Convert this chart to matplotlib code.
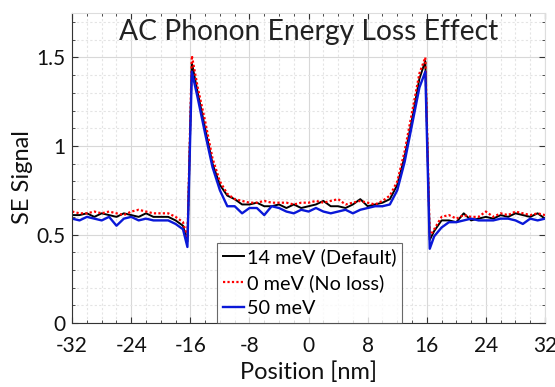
import matplotlib
matplotlib.use("Agg")
import matplotlib.pyplot as plt
from matplotlib.ticker import MultipleLocator, FuncFormatter

plt.rcParams['font.family'] = ['Lato', 'DejaVu Sans']
plt.rcParams['axes.unicode_minus'] = False

position = [-32, -31, -30, -29, -28, -27, -26, -25, -24, -23, -22, -21, -20, -19, -18, -17,
            -16.4, -15.8,
            -15, -14, -13, -12, -11, -10, -9, -8, -7, -6, -5, -4, -3, -2, -1, 0,
            1, 2, 3, 4, 5, 6, 7, 8, 9, 10, 11, 12, 13, 14, 15,
            15.8, 16.4,
            17, 18, 19, 20, 21, 22, 23, 24, 25, 26, 27, 28, 29, 30, 31, 32]

se_14mev = [0.61, 0.61, 0.62, 0.60, 0.62, 0.61, 0.60, 0.62, 0.61, 0.60, 0.62, 0.60, 0.60, 0.60, 0.58, 0.55,
            0.46, 1.47,
            1.30, 1.10, 0.90, 0.78, 0.72, 0.70, 0.67, 0.67, 0.68, 0.66, 0.66, 0.67, 0.65, 0.67, 0.65, 0.66,
            0.67, 0.69, 0.66, 0.66, 0.65, 0.67, 0.70, 0.66, 0.67, 0.68, 0.70, 0.78, 0.94, 1.15, 1.38,
            1.48, 0.47,
            0.52, 0.58, 0.58, 0.57, 0.62, 0.58, 0.59, 0.60, 0.59, 0.61, 0.60, 0.62, 0.61, 0.60, 0.62, 0.59]

se_0mev = [0.63, 0.62, 0.62, 0.63, 0.62, 0.63, 0.62, 0.61, 0.63, 0.64, 0.63, 0.62, 0.62, 0.62, 0.60, 0.57,
           0.48, 1.51,
           1.33, 1.14, 0.93, 0.80, 0.73, 0.70, 0.69, 0.68, 0.68, 0.69, 0.68, 0.68, 0.68, 0.67, 0.68, 0.68,
           0.69, 0.68, 0.69, 0.70, 0.67, 0.68, 0.69, 0.68, 0.67, 0.69, 0.72, 0.80, 0.97, 1.19, 1.41,
           1.50, 0.49,
           0.53, 0.60, 0.61, 0.59, 0.61, 0.60, 0.60, 0.63, 0.60, 0.62, 0.61, 0.63, 0.62, 0.61, 0.62, 0.61]

se_50mev = [0.59, 0.58, 0.60, 0.59, 0.58, 0.60, 0.55, 0.59, 0.60, 0.58, 0.59, 0.58, 0.58, 0.58, 0.56, 0.53,
            0.43, 1.42,
            1.27, 1.07, 0.88, 0.75, 0.66, 0.66, 0.62, 0.65, 0.65, 0.61, 0.66, 0.65, 0.63, 0.62, 0.64, 0.63,
            0.65, 0.63, 0.62, 0.63, 0.64, 0.62, 0.64, 0.65, 0.66, 0.66, 0.67, 0.75, 0.91, 1.12, 1.33,
            1.42, 0.42,
            0.49, 0.54, 0.57, 0.57, 0.58, 0.59, 0.58, 0.58, 0.58, 0.59, 0.59, 0.58, 0.56, 0.59, 0.58, 0.59]

labels = ['14 meV (Default)', '0 meV (No loss)', '50 meV']
title = 'AC Phonon Energy Loss Effect'
x_ticks = [-32, -24, -16, -8, 0, 8, 16, 24, 32]
y_ticks = [0, 0.5, 1, 1.5]

fig = plt.figure(figsize=(5.55, 3.87), dpi=100)
ax = fig.add_axes([0.130, 0.165, 0.852, 0.801])

ax.plot(position, se_14mev, color='black', lw=1.4, label=labels[0])
ax.plot(position, se_0mev, color='#ff0000', lw=1.6, ls=(0, (1, 1)), label=labels[1])
ax.plot(position, se_50mev, color='#0a18d8', lw=1.7, label=labels[2])

ax.set_xlim(-32, 32)
ax.set_ylim(0, 1.75)
ax.set_xticks(x_ticks)
ax.set_yticks(y_ticks)
ax.xaxis.set_minor_locator(MultipleLocator(2))
ax.yaxis.set_minor_locator(MultipleLocator(0.1))
ax.yaxis.set_major_formatter(FuncFormatter(lambda v, p: f'{v:g}'))

ax.grid(which='major', color='#d8d8d8', lw=0.8, ls='-')
ax.grid(which='minor', color='#e4e4e4', lw=0.8, ls=(0, (2, 2)))
ax.set_axisbelow(True)

for s in ['left', 'bottom']:
    ax.spines[s].set_color('#333333')
    ax.spines[s].set_linewidth(0.8)
for s in ['top', 'right']:
    ax.spines[s].set_color('#dddddd')
    ax.spines[s].set_linewidth(0.8)

ax.tick_params(which='both', direction='in', top=True, right=True, colors='#333333',
               labelcolor='#111111', labelsize=15)
ax.tick_params(axis='x', which='major', pad=9)
ax.tick_params(axis='y', which='major', pad=5)
ax.tick_params(which='major', length=4, width=0.8)
ax.tick_params(which='minor', length=2, width=0.6)

ax.set_xlabel('Position [nm]', fontsize=17, color='#111111', labelpad=4)
ax.set_ylabel('SE Signal', fontsize=17, color='#111111')
ax.yaxis.set_label_coords(-0.082, 0.47)
ax.text(0.5, 0.94, title, transform=ax.transAxes, ha='center', va='center',
        fontsize=20.3, color='#222222')

leg = ax.legend(loc='lower left', bbox_to_anchor=(0.307, 0.0), borderaxespad=0,
                fontsize=14.3, handlelength=1.05, handletextpad=0.12, labelspacing=0.4,
                frameon=True, fancybox=False, edgecolor='#444444', borderpad=0.3)
leg.get_frame().set_linewidth(0.8)

fig.savefig('out.png', dpi=100)
